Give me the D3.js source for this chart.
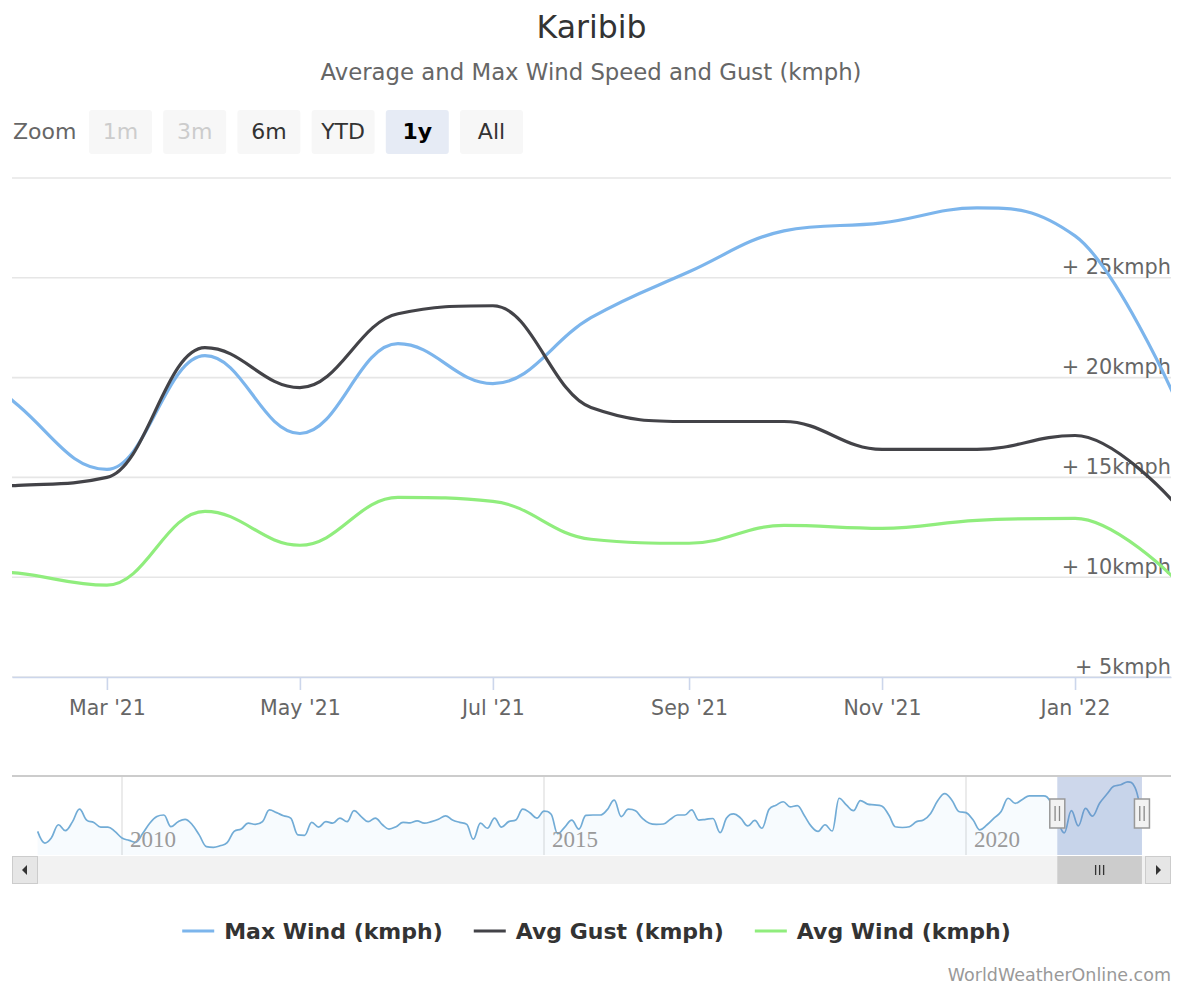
<!DOCTYPE html>
<html><head><meta charset="utf-8">
<script src="https://cdn.jsdelivr.net/npm/d3@7"></script>
<style>
html,body{margin:0;padding:0;background:#fff;}
svg{display:block;font-family:"DejaVu Sans",sans-serif;}
</style></head><body><svg id="c" width="1180" height="985"></svg>
<script>
const title = "Karibib";
const subtitle = "Average and Max Wind Speed and Gust (kmph)";
const months = ["2021-01-01","2021-02-01","2021-03-01","2021-04-01","2021-05-01","2021-06-01","2021-07-01",
  "2021-08-01","2021-09-01","2021-10-01","2021-11-01","2021-12-01","2022-01-01","2022-02-01"];
const maxWind = [23.4, 18.6, 15.4, 21.1, 17.2, 21.7, 19.7, 23.0, 25.3, 27.35, 27.75, 28.5, 27.1, 19.2];
const avgGust = [14.5, 14.6, 15.0, 21.5, 19.5, 23.2, 23.6, 18.5, 17.8, 17.8, 16.4, 16.4, 17.1, 13.8];
const avgWind = [10.6, 10.2, 9.6, 13.3, 11.6, 14.0, 13.8, 11.9, 11.7, 12.6, 12.45, 12.85, 12.95, 10.0];
const seriesNames = ["Max Wind (kmph)", "Avg Gust (kmph)", "Avg Wind (kmph)"];
const seriesColors = ["#7cb5ec", "#434348", "#90ed7d"];
const yTicks = [5, 10, 15, 20, 25, 30];
const yLabelTicks = [5, 10, 15, 20, 25];
const viewStart = "2021-01-30";
const viewEnd = "2022-01-31T08:00";
// navigator history of Max Wind, monthly from Jan 2009 to Dec 2020
const historyStart = "2009-01-01";
const maxWindHistory = [
  15.8, 12.8, 14.1, 17.5, 16.0, 18.3, 21.5, 18.7, 18.1, 16.9, 16.9, 15.8,
  14.1, 13.5, 13.0, 15.3, 17.9, 19.6, 20.0, 17.0, 18.3, 18.9, 17.5, 14.9,
  11.9, 11.7, 12.1, 12.9, 15.8, 16.4, 17.9, 17.6, 18.3, 21.3, 20.6, 19.8,
  19.2, 14.9, 14.8, 18.1, 16.9, 18.3, 17.9, 19.2, 18.3, 21.1, 19.6, 18.3,
  19.2, 17.5, 16.4, 17.0, 18.1, 18.0, 18.5, 17.9, 18.3, 18.9, 19.8, 18.7,
  18.1, 17.6, 13.8, 17.9, 16.6, 19.2, 16.9, 18.3, 18.7, 21.5, 20.6, 19.2,
  21.0, 20.2, 15.2, 16.9, 18.7, 16.4, 19.9, 20.0, 20.0, 21.3, 23.8, 19.6,
  21.5, 21.1, 19.2, 17.9, 17.6, 17.7, 18.9, 20.0, 20.0, 21.3, 18.7, 18.9,
  19.1, 15.5, 19.2, 20.3, 19.2, 17.2, 18.6, 16.6, 21.5, 22.5, 23.4, 22.1,
  22.4, 19.8, 17.2, 15.8, 17.5, 15.9, 24.3, 22.6, 21.1, 23.7, 22.8, 22.6,
  22.3, 20.0, 17.0, 16.8, 17.0, 18.3, 18.7, 20.4, 23.7, 25.5, 23.8, 20.9,
  20.6, 18.7, 16.2, 17.5, 19.2, 20.9, 24.3, 23.0, 24.0, 24.9, 24.9, 24.9
];
const navYears = ["2010", "2015", "2020"];
const zoomButtons = ["1m", "3m", "6m", "YTD", "1y", "All"];
const zoomDisabled = ["1m", "3m"];
const zoomSelected = "1y";
const credits = "WorldWeatherOnline.com";

// ---------- Highcharts-like spline as a d3 curve ----------
function HCSpline(context) { this._context = context; }
HCSpline.prototype = {
  areaStart() { this._line = 0; },
  areaEnd() { this._line = NaN; },
  lineStart() { this._pts = []; },
  point(x, y) { this._pts.push([+x, +y]); },
  lineEnd() {
    const pts = this._pts, c = this._context, n = pts.length;
    if (!n) return;
    const sm = 1.5, den = 2.5;
    const ctrl = pts.map((pt, i) => {
      if (i === 0 || i === n - 1) return null;
      const [x, y] = pt, [lx, ly] = pts[i - 1], [nx, ny] = pts[i + 1];
      const lcx = (sm * x + lx) / den, rcx = (sm * x + nx) / den;
      let lcy = (sm * y + ly) / den, rcy = (sm * y + ny) / den;
      let corr = 0;
      if (rcx !== lcx) corr = ((rcy - lcy) * (rcx - x)) / (rcx - lcx) + y - rcy;
      lcy += corr; rcy += corr;
      if (lcy > ly && lcy > y) { lcy = Math.max(ly, y); rcy = 2 * y - lcy; }
      else if (lcy < ly && lcy < y) { lcy = Math.min(ly, y); rcy = 2 * y - lcy; }
      if (rcy > ny && rcy > y) { rcy = Math.max(ny, y); lcy = 2 * y - rcy; }
      else if (rcy < ny && rcy < y) { rcy = Math.min(ny, y); lcy = 2 * y - rcy; }
      return { lcx, lcy, rcx, rcy };
    });
    if (this._line) c.lineTo(pts[0][0], pts[0][1]); else c.moveTo(pts[0][0], pts[0][1]);
    for (let i = 1; i < n; i++) {
      const a = ctrl[i - 1], b = ctrl[i];
      c.bezierCurveTo(a ? a.rcx : pts[i - 1][0], a ? a.rcy : pts[i - 1][1],
                      b ? b.lcx : pts[i][0], b ? b.lcy : pts[i][1], pts[i][0], pts[i][1]);
    }
    if (this._line) c.closePath();
    this._line = 1 - this._line;
  }
};
const curveHC = ctx => new HCSpline(ctx);

// ---------- layout ----------
const svg = d3.select("#c");
svg.append("rect").attr("width", 1180).attr("height", 985).attr("fill", "#fff");
const L = 12, R = 1171, T = 178, B = 677;

svg.append("text").attr("x", 591.5).attr("y", 38).attr("text-anchor", "middle")
  .attr("font-size", 31.5).attr("fill", "#333").text(title);
svg.append("text").attr("x", 591).attr("y", 80).attr("text-anchor", "middle")
  .attr("font-size", 22.8).attr("fill", "#666").text(subtitle);

// range selector
svg.append("text").attr("x", 13).attr("y", 139).attr("font-size", 22).attr("fill", "#666").text("Zoom");
const btnX = d3.scalePoint().domain(zoomButtons).range([89, 460]);
const btn = svg.append("g").selectAll("g").data(zoomButtons).join("g")
  .attr("transform", d => `translate(${btnX(d)},110)`);
btn.append("rect").attr("width", 63).attr("height", 44).attr("rx", 3)
  .attr("fill", d => d === zoomSelected ? "#e6ebf5" : "#f7f7f7");
btn.append("text").attr("x", 31.5).attr("y", 29).attr("text-anchor", "middle").attr("font-size", 22)
  .attr("font-weight", d => d === zoomSelected ? "bold" : "normal")
  .attr("fill", d => zoomDisabled.includes(d) ? "#cccccc" : (d === zoomSelected ? "#000" : "#333"))
  .text(d => d);

// scales
const parse = s => new Date(s);
const x = d3.scaleTime().domain([parse(viewStart), parse(viewEnd)]).range([L, R]);
const y = d3.scaleLinear().domain([5, 30]).range([B, T]);

// grid
svg.append("g").selectAll("line").data(yTicks).join("line")
  .attr("x1", L).attr("x2", R).attr("y1", d => y(d)).attr("y2", d => y(d))
  .attr("stroke", "#e6e6e6").attr("stroke-width", 1.6);

// x axis
const xAxis = svg.append("g").attr("transform", `translate(0,${B})`)
  .call(d3.axisBottom(x).ticks(d3.timeMonth.every(2)).tickFormat(d3.timeFormat("%b '%y"))
    .tickSizeInner(13).tickSizeOuter(0));
xAxis.select(".domain").attr("stroke", "#ccd6eb").attr("stroke-width", 1.6);
xAxis.selectAll(".tick line").attr("stroke", "#ccd6eb").attr("stroke-width", 1.6);
xAxis.selectAll(".tick text").attr("y", 38).attr("dy", null).attr("fill", "#666")
  .attr("font-size", 20.5).attr("font-family", "DejaVu Sans, sans-serif");

// y labels
svg.append("g").selectAll("text").data(yLabelTicks).join("text")
  .attr("x", R).attr("y", d => y(d) - 3.5).attr("text-anchor", "end")
  .attr("font-size", 20.8).attr("fill", "#666").text(d => "+ " + d + "kmph");

// series
svg.append("clipPath").attr("id", "plotclip").append("rect")
  .attr("x", L).attr("y", T - 20).attr("width", R - L).attr("height", B - T + 40);
const dates = months.map(parse);
const seriesValues = [maxWind, avgGust, avgWind];
const line = d3.line().x(d => x(d[0])).y(d => y(d[1])).curve(curveHC);
svg.append("g").attr("clip-path", "url(#plotclip)").selectAll("path").data(seriesValues).join("path")
  .attr("d", vals => line(vals.map((v, i) => [dates[i], v])))
  .attr("fill", "none").attr("stroke", (d, i) => seriesColors[i]).attr("stroke-width", 3.2)
  .attr("stroke-linejoin", "round").attr("stroke-linecap", "round");

// ---------- navigator ----------
const NT = 776, NB = 855;
const navX = d3.scaleTime().domain([new Date(2010, 0, 1), new Date(2020, 0, 1)]).range([122, 966]);
const navY = d3.scaleLinear().domain([10, 30]).range([854, 776]);
const hs = parse(historyStart);
const navData = maxWindHistory.map((v, i) => [new Date(hs.getFullYear(), hs.getMonth() + i, 1), v])
  .concat(maxWind.map((v, i) => [dates[i], v]));
svg.append("g").selectAll("line").data(navYears).join("line")
  .attr("x1", d => navX(new Date(+d, 0, 1))).attr("x2", d => navX(new Date(+d, 0, 1)))
  .attr("y1", NT).attr("y2", NB).attr("stroke", "#e6e6e6").attr("stroke-width", 1.6);
const navArea = d3.area().x(d => navX(d[0])).y0(NB).y1(d => navY(d[1])).curve(curveHC);
const navLine = d3.line().x(d => navX(d[0])).y(d => navY(d[1])).curve(curveHC);
svg.append("path").attr("d", navArea(navData)).attr("fill", "#7cb5ec").attr("fill-opacity", 0.06);
svg.append("path").attr("d", navLine(navData)).attr("fill", "none").attr("stroke", "#72acd6").attr("stroke-width", 1.7);
svg.append("g").selectAll("text").data(navYears).join("text")
  .attr("x", d => navX(new Date(+d, 0, 1)) + 8).attr("y", 847)
  .attr("font-family", "Liberation Serif, serif").attr("font-size", 23).attr("fill", "#9a9a9a").text(d => d);
const m0 = navX(x.domain()[0]), m1 = navX(x.domain()[1]);
svg.append("rect").attr("x", m0).attr("y", NT).attr("width", m1 - m0).attr("height", NB - NT)
  .attr("fill", "rgba(102,133,194,0.33)");
svg.append("line").attr("x1", L).attr("x2", R).attr("y1", NT).attr("y2", NT)
  .attr("stroke", "#cccccc").attr("stroke-width", 2);
const handles = svg.append("g").selectAll("g").data([m0, m1]).join("g")
  .attr("transform", d => `translate(${d},0)`);
handles.append("rect").attr("x", -7.5).attr("y", 799).attr("width", 15).attr("height", 29)
  .attr("fill", "#f2f2f2").attr("stroke", "#999").attr("stroke-width", 1.5);
handles.selectAll("line").data([-2.2, 2.2]).join("line")
  .attr("x1", d => d).attr("x2", d => d).attr("y1", 806).attr("y2", 821)
  .attr("stroke", "#888").attr("stroke-width", 1.3);

// scrollbar
const SB = 856, SH = 28;
svg.append("rect").attr("x", L).attr("y", SB).attr("width", R - L).attr("height", SH).attr("fill", "#f2f2f2");
svg.append("rect").attr("x", m0).attr("y", SB).attr("width", m1 - m0).attr("height", SH).attr("fill", "#cccccc");
svg.append("g").selectAll("line").data([-4, 0, 4]).join("line")
  .attr("x1", d => (m0 + m1) / 2 + d).attr("x2", d => (m0 + m1) / 2 + d)
  .attr("y1", SB + 9).attr("y2", SB + 19).attr("stroke", "#333").attr("stroke-width", 1.3);
[[L, -1], [R - 26, 1]].forEach(([bx, dir]) => {
  svg.append("rect").attr("x", bx + 0.5).attr("y", SB + 0.5).attr("width", 25).attr("height", SH - 1)
    .attr("fill", "#e6e6e6").attr("stroke", "#cccccc").attr("stroke-width", 1);
  const cx = bx + 13, cy = SB + SH / 2;
  svg.append("path").attr("d", `M${cx + dir * 3},${cy}L${cx - dir * 2},${cy - 5}L${cx - dir * 2},${cy + 5}Z`)
    .attr("fill", "#333");
});

// legend
const legend = svg.append("g");
let lx = 0;
seriesNames.forEach((name, i) => {
  const g = legend.append("g");
  g.append("line").attr("x1", 0).attr("x2", 32).attr("y1", 0).attr("y2", 0)
    .attr("stroke", seriesColors[i]).attr("stroke-width", 3.2);
  const t = g.append("text").attr("x", 42).attr("y", 8).attr("font-size", 22)
    .attr("font-weight", "bold").attr("fill", "#333").text(name);
  const w = 42 + t.node().getComputedTextLength();
  g.attr("transform", `translate(${lx},931)`);
  lx += w + 31;
});
const total = lx - 31;
legend.attr("transform", `translate(${596.5 - total / 2},0)`);

svg.append("text").attr("x", R).attr("y", 981).attr("text-anchor", "end")
  .attr("font-size", 17.5).attr("fill", "#999").text(credits);
</script></body></html>
